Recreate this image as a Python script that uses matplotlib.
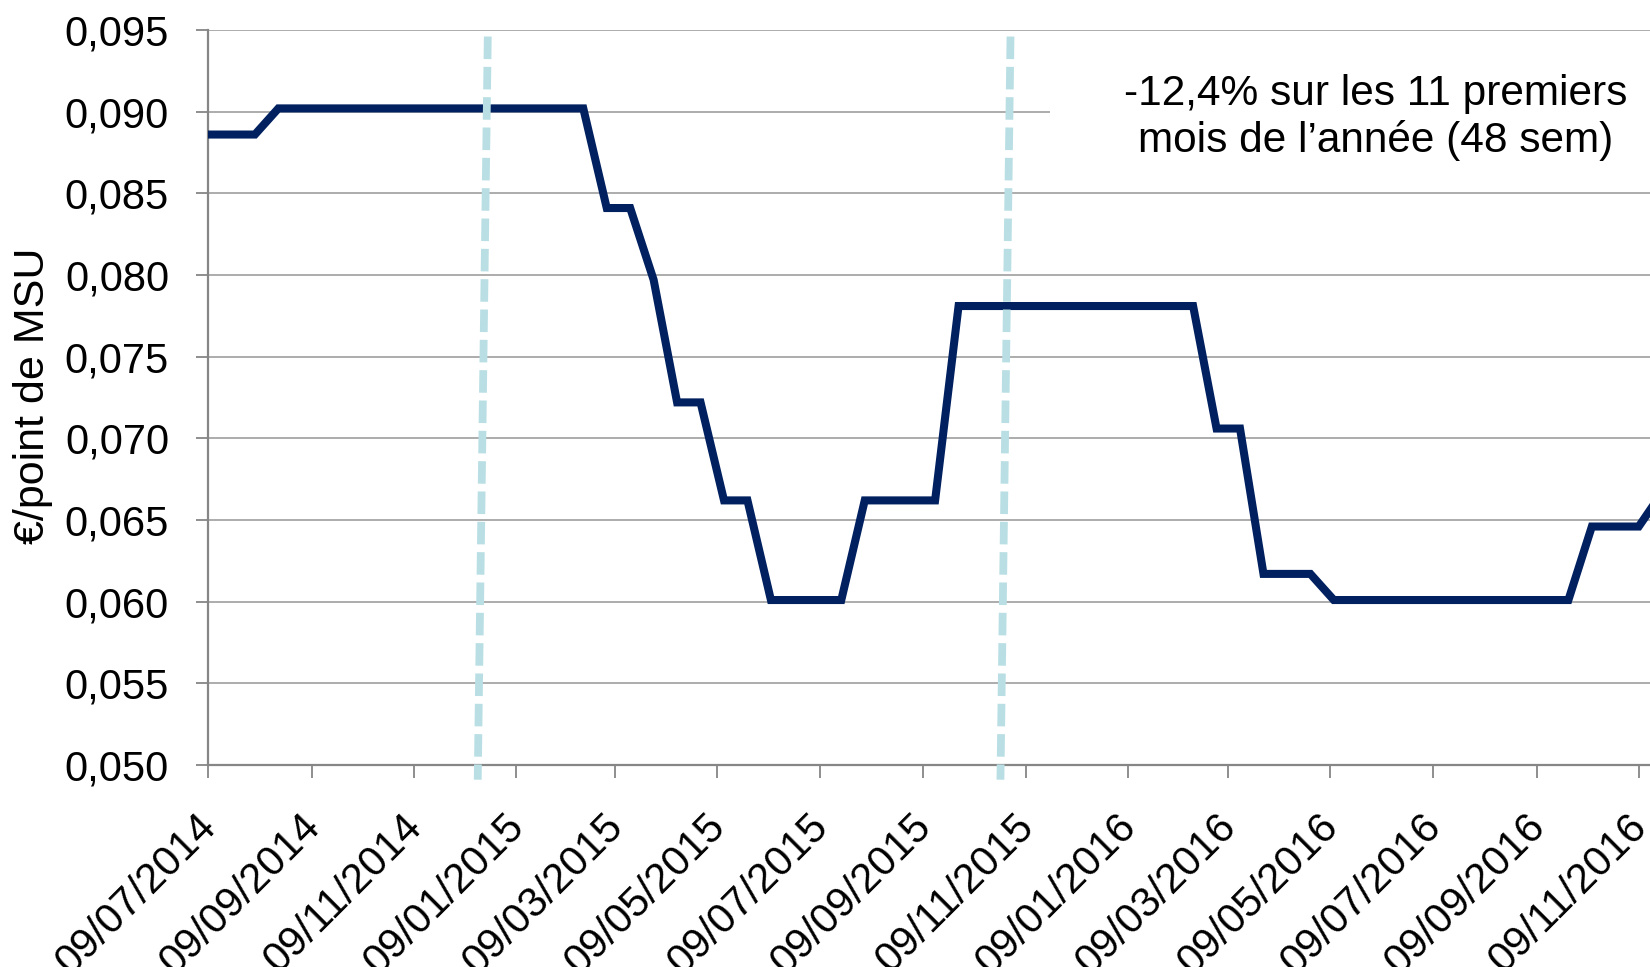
import matplotlib
matplotlib.use('Agg')
import matplotlib.pyplot as plt
import matplotlib.dates as mdates
import matplotlib.transforms as mtransforms
from matplotlib.patches import Rectangle
from matplotlib.ticker import FuncFormatter
import pandas as pd

plt.rcParams['font.family'] = ['Liberation Sans', 'DejaVu Sans']

# corners of the price curve (EUR per MSU point)
dates = ['2014-07-09', '2014-08-06', '2014-08-20', '2015-02-18', '2015-03-04',
         '2015-03-18', '2015-04-01', '2015-04-15', '2015-04-29', '2015-05-13',
         '2015-05-27', '2015-06-10', '2015-07-22', '2015-08-05', '2015-09-16',
         '2015-09-30', '2016-02-17', '2016-03-02', '2016-03-16', '2016-03-30',
         '2016-04-27', '2016-05-11', '2016-09-28', '2016-10-12', '2016-11-09',
         '2016-11-23']
values = [0.0886, 0.0886, 0.0902, 0.0902, 0.0841,
          0.0841, 0.0797, 0.0722, 0.0722, 0.0662,
          0.0662, 0.0601, 0.0601, 0.0662, 0.0662,
          0.0781, 0.0781, 0.0706, 0.0706, 0.0617,
          0.0617, 0.0601, 0.0601, 0.0646, 0.0646,
          0.0667]

# the two dashed markers (slightly slanted in the original)
marker1_dates = ['2014-12-23', '2014-12-17']
marker2_dates = ['2015-10-31', '2015-10-25']
marker_values = [0.0946, 0.0491]

tick_dates = ['2014-07-09', '2014-09-09', '2014-11-09', '2015-01-09', '2015-03-09',
              '2015-05-09', '2015-07-09', '2015-09-09', '2015-11-09', '2016-01-09',
              '2016-03-09', '2016-05-09', '2016-07-09', '2016-09-09', '2016-11-09']
y_ticks = [0.050, 0.055, 0.060, 0.065, 0.070, 0.075, 0.080, 0.085, 0.090, 0.095]

note = "-12,4% sur les 11 premiers\nmois de l\u2019ann\u00e9e (48 sem)"
y_title = "\u20ac/point de MSU"

W, H = 1650, 967
fig = plt.figure(figsize=(W / 100, H / 100), dpi=100)
ax = fig.add_axes([208 / W, 1 - 765 / H, 1442 / W, 735 / H])

x = pd.to_datetime(dates)
ax.plot(x, values, color='#002060', lw=5.8, solid_joinstyle='miter', zorder=3)

for md in (marker1_dates, marker2_dates):
    ax.plot(pd.to_datetime(md), marker_values, color='#B9DFE4', lw=5.6,
            dashes=(2.9, 1.0), dash_capstyle='butt', clip_on=False, zorder=4)

ax.set_xlim(pd.Timestamp('2014-07-09'), pd.Timestamp('2016-11-15 17:00'))
ax.set_ylim(0.050, 0.095)

ax.set_yticks(y_ticks)
ax.yaxis.set_major_formatter(FuncFormatter(lambda v, p: f'{v:.3f}'.replace('.', ',')))
ax.set_xticks(pd.to_datetime(tick_dates))
ax.xaxis.set_major_formatter(mdates.DateFormatter('%d/%m/%Y'))

ax.set_axisbelow(True)
ax.yaxis.grid(True, color='#A6A6A6', lw=1.3)
ax.add_patch(Rectangle((0.584, 0.83), 0.5, 0.12, transform=ax.transAxes,
                       facecolor='white', edgecolor='none', zorder=1))

for s in ['top', 'right']:
    ax.spines[s].set_visible(False)
for s in ['left', 'bottom']:
    ax.spines[s].set_color('#868686')
    ax.spines[s].set_linewidth(1.6)

ax.tick_params(axis='y', length=9, width=1.3, color='#868686', labelsize=30, pad=19)
ax.tick_params(axis='x', length=9, width=1.3, color='#868686', labelsize=30, pad=21)

shift = mtransforms.ScaledTranslation(-12 / 100, 0, fig.dpi_scale_trans)
for lab in ax.get_xticklabels():
    lab.set_rotation(45)
    lab.set_rotation_mode('anchor')
    lab.set_ha('right')
    lab.set_va('top')
    lab.set_transform(lab.get_transform() + shift)

fig.text(33 / W, 1 - 396 / H, y_title, rotation=90, ha='center', va='center', fontsize=31)

ax.text(0.81, 0.881, note, transform=ax.transAxes, ha='center', va='center',
        fontsize=30.5, linespacing=1.2, zorder=5)

fig.savefig('out.png', dpi=100)
